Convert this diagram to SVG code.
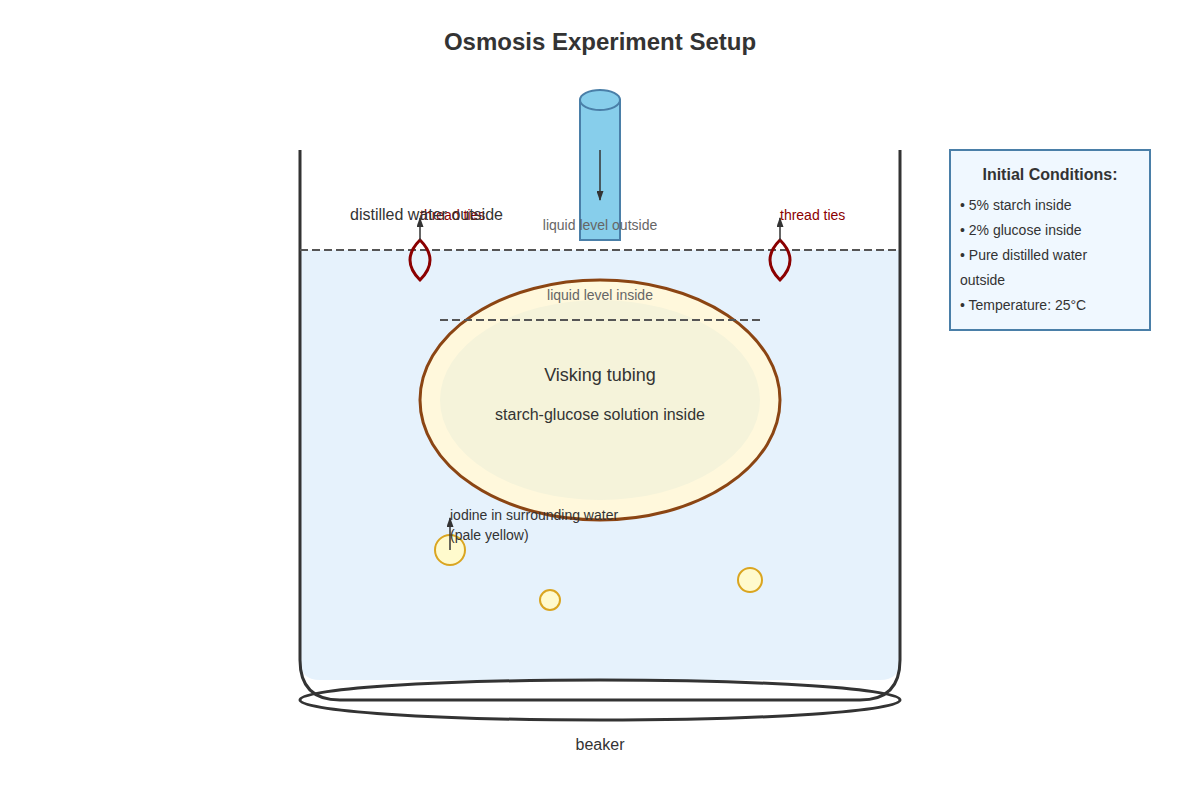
<svg xmlns="http://www.w3.org/2000/svg" width="1200" height="800" viewBox="0 0 1200 800">
<style>
text{font-family:"Liberation Sans",Arial,sans-serif;fill:#333}
.s{font-size:14px}.g{fill:#666}.r{fill:#8b0000}
.dash{stroke:#555;stroke-width:2;stroke-dasharray:8,4;fill:none}
.tie{fill:none;stroke:#8b0000;stroke-width:3}
.bub{fill:#fffacd;stroke:#daa520;stroke-width:2}
</style>
<defs><marker id="ah" markerWidth="10" markerHeight="7" refX="9" refY="3.5" orient="auto" markerUnits="userSpaceOnUse"><path d="M0,0L10,3.5L0,7z" fill="#333"/></marker></defs>
<rect width="1200" height="800" fill="#fff"/>
<text x="600" y="50" text-anchor="middle" font-size="24" font-weight="bold">Osmosis Experiment Setup</text>
<g id="water"><path d="M300,250H900V660Q900,680 880,680H320Q300,680 300,660Z" fill="#e6f2fc"/></g>
<g id="beaker">
<path d="M300,150V660Q300,700 340,700H860Q900,700 900,660V150" fill="none" stroke="#333" stroke-width="3"/>
<ellipse cx="600" cy="700" rx="300" ry="20" fill="none" stroke="#333" stroke-width="3"/>
<text x="600" y="750" text-anchor="middle" font-size="16">beaker</text>
</g>
<g id="tubing">
<ellipse cx="600" cy="400" rx="180" ry="120" fill="#fff8dc" stroke="#8b4513" stroke-width="3"/>
<ellipse cx="600" cy="400" rx="160" ry="100" fill="#f5f3da"/>
<text x="600" y="381" text-anchor="middle" font-size="18">Visking tubing</text>
<text x="600" y="420" text-anchor="middle" font-size="16">starch-glucose solution inside</text>
</g>
<g id="tube">
<rect x="580" y="100" width="40" height="140" fill="#87ceeb" stroke="#4a7fa8" stroke-width="2"/>
<ellipse cx="600" cy="100" rx="20" ry="10" fill="#87ceeb" stroke="#4a7fa8" stroke-width="2"/>
</g>
<g id="levels">
<line class="dash" x1="300" y1="250" x2="900" y2="250"/>
<line class="dash" x1="440" y1="320" x2="760" y2="320"/>
<text x="600" y="230" text-anchor="middle" class="s g">liquid level outside</text>
<text x="600" y="300" text-anchor="middle" class="s g">liquid level inside</text>
</g>
<g id="ties">
<path class="tie" d="M420,240Q430,250 430,260Q430,270 420,280Q410,270 410,260Q410,250 420,240Z"/>
<path class="tie" d="M780,240Q790,250 790,260Q790,270 780,280Q770,270 770,260Q770,250 780,240Z"/>
<text x="420" y="220" class="s r">thread ties</text>
<text x="780" y="220" class="s r">thread ties</text>
</g>
<g id="bubbles">
<circle class="bub" cx="450" cy="550" r="15"/>
<circle class="bub" cx="550" cy="600" r="10"/>
<circle class="bub" cx="750" cy="580" r="12"/>
</g>
<text x="350" y="220" font-size="16">distilled water outside</text>
<text x="450" y="520" class="s">iodine in surrounding water</text>
<text x="450" y="540" class="s">(pale yellow)</text>
<g id="connectors" stroke="#333" stroke-width="1.5">
<line x1="600" y1="150" x2="600" y2="200" marker-end="url(#ah)"/>
<line x1="420" y1="240" x2="420" y2="218" marker-end="url(#ah)"/>
<line x1="780" y1="240" x2="780" y2="218" marker-end="url(#ah)"/>
<line x1="450" y1="550" x2="450" y2="518" marker-end="url(#ah)"/>
</g>
<g id="info">
<rect x="950" y="150" width="200" height="180" fill="#f0f8ff" stroke="#4a7fa8" stroke-width="2"/>
<text x="1050" y="180" text-anchor="middle" font-size="16" font-weight="bold">Initial Conditions:</text>
<text x="960" y="210" class="s">• 5% starch inside</text>
<text x="960" y="235" class="s">• 2% glucose inside</text>
<text x="960" y="260" class="s">• Pure distilled water</text>
<text x="960" y="285" class="s">outside</text>
<text x="960" y="310" class="s">• Temperature: 25°C</text>
</g>
</svg>
